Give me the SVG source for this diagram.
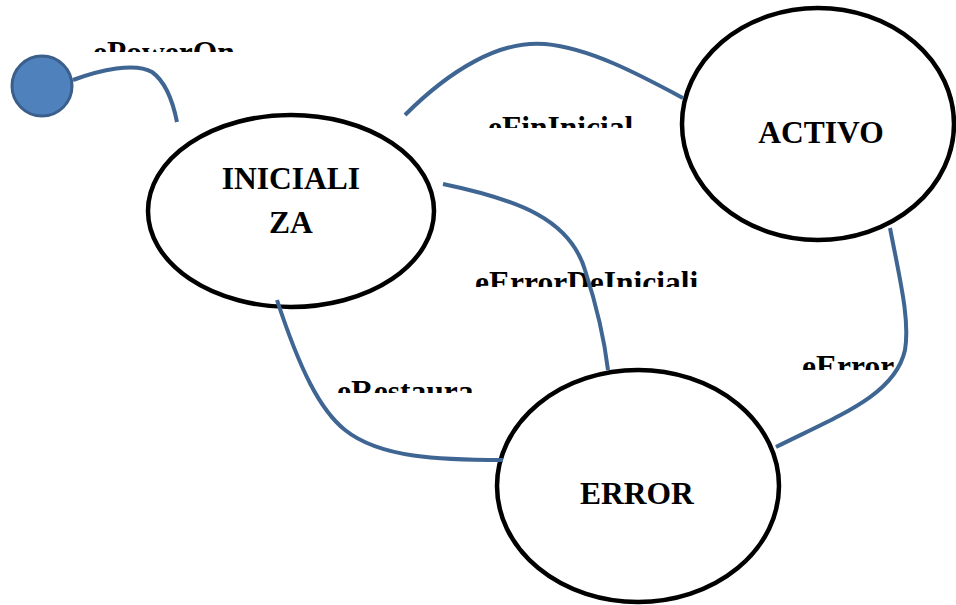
<svg xmlns="http://www.w3.org/2000/svg" width="956" height="605" viewBox="0 0 956 605">
  <style>
    .state { fill: #ffffff; stroke: #000000; stroke-width: 4.5; }
    .name { font-family: "Liberation Serif", "Times New Roman", serif; font-weight: bold; font-size: 31.5px; fill: #000000; text-anchor: middle; }
    .event { font-family: "Liberation Serif", "Times New Roman", serif; font-weight: bold; font-size: 31.5px; fill: #000000; }
    .edge { fill: none; stroke: #3f6593; stroke-width: 4; stroke-linecap: butt; }
  </style>
  <defs>
    <!-- event labels sit in fixed-height text boxes, so their lower part is cut off -->
    <clipPath id="cl-power"><rect x="80" y="30" width="170" height="22"/></clipPath>
    <clipPath id="cl-fin"><rect x="470" y="105" width="180" height="23"/></clipPath>
    <clipPath id="cl-errini"><rect x="460" y="262" width="240" height="25"/></clipPath>
    <clipPath id="cl-rest"><rect x="325" y="372" width="160" height="21"/></clipPath>
    <clipPath id="cl-err"><rect x="790" y="345" width="110" height="25"/></clipPath>
  </defs>

  <rect width="956" height="605" fill="#ffffff"/>

  <g id="start">
    <circle cx="42" cy="86" r="30" fill="#4f81bd" stroke="#3a5f8b" stroke-width="3"/>
  </g>

  <g id="inicializa">
    <ellipse class="state" cx="291" cy="211" rx="143" ry="96"/>
    <text class="name" x="291" y="189">INICIALI</text>
    <text class="name" x="291" y="233">ZA</text>
  </g>

  <g id="activo">
    <ellipse class="state" cx="818" cy="124" rx="136" ry="116"/>
    <text class="name" x="821" y="143">ACTIVO</text>
  </g>

  <g id="error">
    <ellipse class="state" cx="638" cy="486" rx="141" ry="116"/>
    <text class="name" x="637" y="504">ERROR</text>
  </g>

  <g id="labels">
    <text class="event" x="93" y="63" clip-path="url(#cl-power)">ePowerOn</text>
    <text class="event" x="488" y="138" clip-path="url(#cl-fin)">eFinInicial</text>
    <text class="event" x="475" y="293" clip-path="url(#cl-errini)">eErrorDeIniciali</text>
    <text class="event" x="337" y="402" clip-path="url(#cl-rest)">eRestaura</text>
    <text class="event" x="802" y="377" clip-path="url(#cl-err)">eError</text>
  </g>

  <g id="connectors">
    <path class="edge" d="M73,80 C100,70 135,62 152,72 C166,82 173,102 177,122"/>
    <path class="edge" d="M405,115 C450,70 500,40 545,44 C590,48 640,75 683,98"/>
    <path class="edge" d="M443,184 C520,200 570,220 585,270 C598,310 605,345 608,370"/>
    <path class="edge" d="M277,300 C300,370 320,410 345,430 C380,458 440,460 503,460"/>
    <path class="edge" d="M890,228 C900,280 910,320 905,350 C895,395 840,415 776,447"/>
  </g>
</svg>
